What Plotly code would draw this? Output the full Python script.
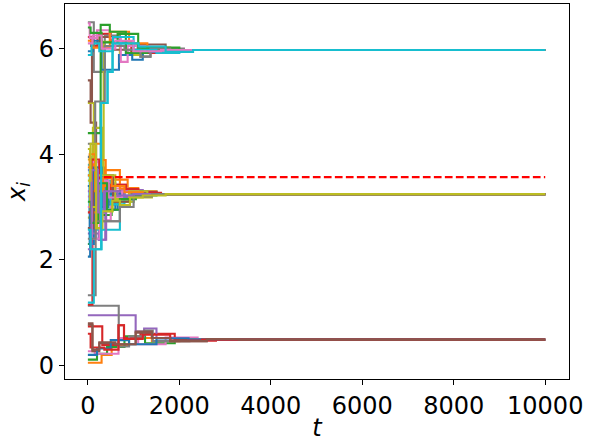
import plotly.graph_objects as go

# Opinion trajectories x_i(t): each agent holds its value until the next update time.
# agent_times[k] / agent_values[k] are the update instants and the values taken there.
agent_times = [
    [0, 50, 260, 420, 650, 1000, 1400],
    [0, 300, 520, 900, 1400, 2000],
    [0, 200, 420, 800, 1250, 1900, 2600],
    [0, 70, 210, 500, 950, 1500],
    [0, 90, 240, 380, 700, 1200],
    [0, 60, 180, 350, 600, 1100],
    [0, 150, 670, 1100, 1700, 2400],
    [0, 130, 370, 700, 1150, 1370, 2100],
    [0, 130, 345, 700, 1200, 1800],
    [0, 40, 170, 700, 1000, 1500],
    [0, 110, 300, 680, 970, 1200, 1900],
    [0, 120, 300, 390, 560, 870, 1100, 1500],
    [0, 80, 260, 520, 900, 1300],
    [0, 315, 670, 790, 1150, 1900, 2800],
    [0, 1045, 1230, 1500, 2200],
    [0, 90, 260, 550, 1090, 1700],
    [0, 40, 200, 480, 720, 870, 1350, 1900],
    [0, 675, 900, 1230, 1420, 2220],
    [0, 110, 315, 535, 700, 920, 1300],
    [0, 60, 280, 430, 540, 1100, 1700],
    [0, 60, 150, 400, 600, 1000, 1500],
    [0, 100, 480, 900, 1300, 1800],
    [0, 280, 480, 830, 1300, 2000],
    [0, 100, 300, 500, 830, 1100, 1600],
    [0, 50, 180, 320, 600, 1000],
    [0, 100, 250, 600, 1045, 1400, 1800, 2600],
    [0, 70, 240, 500, 900, 1300],
    [0, 170, 700, 950, 1300],
    [0, 90, 200, 315, 535, 1000, 1400],
    [0, 130, 300, 500, 800, 1200],
    [0, 40, 130, 300, 450, 800, 1200],
    [0, 60, 200, 380, 700, 1100],
    [0, 60, 300, 650, 1100, 1700],
    [0, 80, 250, 500, 830, 1100, 1500],
    [0, 100, 240, 400, 800, 1200],
    [0, 120, 280, 550, 900, 1300],
    [0, 90, 260, 450, 750, 1100],
    [0, 160, 370, 800, 1150, 1370, 1800],
    [0, 50, 200, 600, 900, 1300],
    [0, 80, 250, 550, 1000, 1500, 2000],
    [0, 200, 500, 900, 1500, 2200],
    [0, 40, 160, 330, 520, 800, 1200],
    [0, 70, 230, 420, 700, 1050, 1500],
    [0, 60, 360, 670, 790, 1200, 1800, 2500],
    [0, 80, 220, 350, 650, 1000],
    [0, 100, 250, 600, 1045, 1400, 1800, 2600, 3300],
    [0, 100, 300, 600, 1000, 1600],
    [0, 170, 700, 1000, 1400],
    [0, 60, 180, 315, 535, 700, 920, 1200, 1700],
    [0, 60, 290, 430, 540, 1110, 1700, 2300],
]

agent_values = [
    [2.06, 2.90, 3.55, 2.95, 3.15, 3.28, 3.245],
    [0.05, 0.20, 0.38, 0.52, 0.46, 0.488],
    [0.11, 0.22, 0.35, 0.55, 0.42, 0.50, 0.488],
    [6.22, 6.05, 6.28, 6.12, 5.92, 5.975],
    [3.70, 2.60, 2.38, 3.10, 3.32, 3.245],
    [5.40, 4.60, 3.75, 3.05, 3.30, 3.245],
    [0.27, 0.22, 0.52, 0.40, 0.53, 0.488],
    [6.50, 5.56, 6.25, 6.05, 5.85, 6.00, 5.975],
    [4.97, 3.30, 6.13, 5.88, 6.02, 5.975],
    [3.80, 2.90, 2.57, 3.10, 3.30, 3.245],
    [5.95, 6.15, 5.60, 5.88, 5.79, 5.94, 5.975],
    [3.40, 4.20, 3.89, 3.58, 3.52, 3.36, 3.30, 3.245],
    [2.30, 3.40, 2.85, 3.15, 3.20, 3.245],
    [0.74, 0.39, 0.76, 0.52, 0.60, 0.47, 0.488],
    [0.95, 0.64, 0.70, 0.52, 0.488],
    [5.00, 6.10, 6.22, 5.98, 6.08, 5.975],
    [6.48, 6.20, 6.35, 6.20, 5.75, 6.05, 5.95, 5.975],
    [1.13, 0.36, 0.55, 0.66, 0.46, 0.488],
    [3.90, 4.50, 2.92, 3.15, 3.04, 3.20, 3.245],
    [3.60, 2.40, 4.97, 5.56, 6.10, 6.03, 5.975],
    [3.95, 2.70, 3.40, 2.95, 3.20, 3.28, 3.245],
    [6.15, 6.02, 6.32, 6.10, 6.00, 5.975],
    [4.40, 6.45, 6.32, 5.92, 6.02, 5.975],
    [1.15, 3.60, 3.10, 3.42, 3.33, 3.27, 3.245],
    [2.50, 3.30, 2.80, 3.45, 3.18, 3.245],
    [0.77, 0.27, 0.42, 0.40, 0.64, 0.52, 0.46, 0.488],
    [3.20, 3.85, 2.75, 3.35, 3.20, 3.245],
    [1.33, 2.73, 3.15, 3.30, 3.245],
    [2.80, 3.50, 2.60, 2.92, 3.10, 3.18, 3.245],
    [1.19, 2.20, 3.50, 3.05, 3.22, 3.245],
    [3.40, 2.30, 3.75, 3.00, 3.25, 3.30, 3.245],
    [3.60, 2.90, 3.40, 3.70, 3.35, 3.245],
    [6.40, 6.30, 6.12, 6.28, 6.00, 5.975],
    [2.90, 3.90, 3.30, 3.42, 3.34, 3.28, 3.245],
    [3.30, 2.50, 2.38, 3.30, 3.20, 3.245],
    [2.60, 3.30, 3.60, 3.10, 3.28, 3.245],
    [3.00, 2.40, 3.50, 3.18, 3.30, 3.245],
    [4.20, 5.00, 6.05, 5.98, 5.85, 6.00, 5.975],
    [4.10, 3.00, 3.60, 3.15, 3.30, 3.245],
    [5.88, 6.10, 5.95, 6.22, 5.98, 5.92, 5.975],
    [0.20, 0.32, 0.48, 0.40, 0.51, 0.488],
    [3.75, 4.00, 3.30, 3.55, 3.40, 3.28, 3.245],
    [3.10, 2.70, 3.45, 2.95, 3.15, 3.22, 3.245],
    [0.60, 0.34, 0.30, 0.76, 0.50, 0.58, 0.47, 0.488],
    [2.20, 3.70, 2.90, 3.30, 3.22, 3.245],
    [0.80, 0.30, 0.44, 0.40, 0.62, 0.52, 0.46, 0.50, 0.488],
    [6.10, 6.25, 6.00, 6.15, 5.95, 5.975],
    [2.40, 2.73, 3.00, 3.20, 3.245],
    [3.50, 4.20, 2.60, 2.92, 3.12, 3.04, 3.18, 3.22, 3.245],
    [2.57, 2.20, 4.97, 5.56, 6.10, 6.04, 5.94, 5.975],
]

t_end = 10000
mean_level = 3.567
mean_start = 350

x_ticks = [0, 2000, 4000, 6000, 8000, 10000]
y_ticks = [0, 2, 4, 6]

palette = ['#1f77b4', '#ff7f0e', '#2ca02c', '#d62728', '#9467bd',
           '#8c564b', '#e377c2', '#7f7f7f', '#bcbd22', '#17becf']

fig = go.Figure()
for k, (ts, vs) in enumerate(zip(agent_times, agent_values)):
    fig.add_trace(go.Scatter(
        x=list(ts) + [t_end], y=list(vs) + [vs[-1]],
        mode='lines', line=dict(color=palette[k % 10], width=2.1, shape='hv'),
        showlegend=False, hoverinfo='skip'))

fig.add_trace(go.Scatter(
    x=[mean_start, t_end], y=[mean_level, mean_level], mode='lines',
    line=dict(color='red', width=2.1, dash='7.7px,3.3px'),
    showlegend=False, hoverinfo='skip'))

axis_font = dict(family='DejaVu Sans', size=24, color='black')
fig.update_layout(
    width=598, height=445,
    margin=dict(l=65, r=29, t=4, b=66),
    paper_bgcolor='white', plot_bgcolor='white',
    font=axis_font,
)
fig.update_xaxes(
    range=[-500, 10520], tickvals=x_ticks, ticktext=[str(v) for v in x_ticks],
    showline=True, linecolor='black', linewidth=1.1, mirror=True,
    ticks='outside', ticklen=5, tickwidth=1.1, tickcolor='black',
    showgrid=False, zeroline=False, tickfont=axis_font,
    title=dict(text='<i>t</i>', font=axis_font, standoff=0),
)
fig.update_yaxes(
    range=[-0.257, 6.846], tickvals=y_ticks, ticktext=[str(v) for v in y_ticks],
    showline=True, linecolor='black', linewidth=1.1, mirror=True,
    ticks='outside', ticklen=5, tickwidth=1.1, tickcolor='black',
    showgrid=False, zeroline=False, tickfont=axis_font,
    title=dict(text='<i>x</i><sub><i>i</i></sub>', font=axis_font, standoff=6),
)

fig.write_html("out.html")
